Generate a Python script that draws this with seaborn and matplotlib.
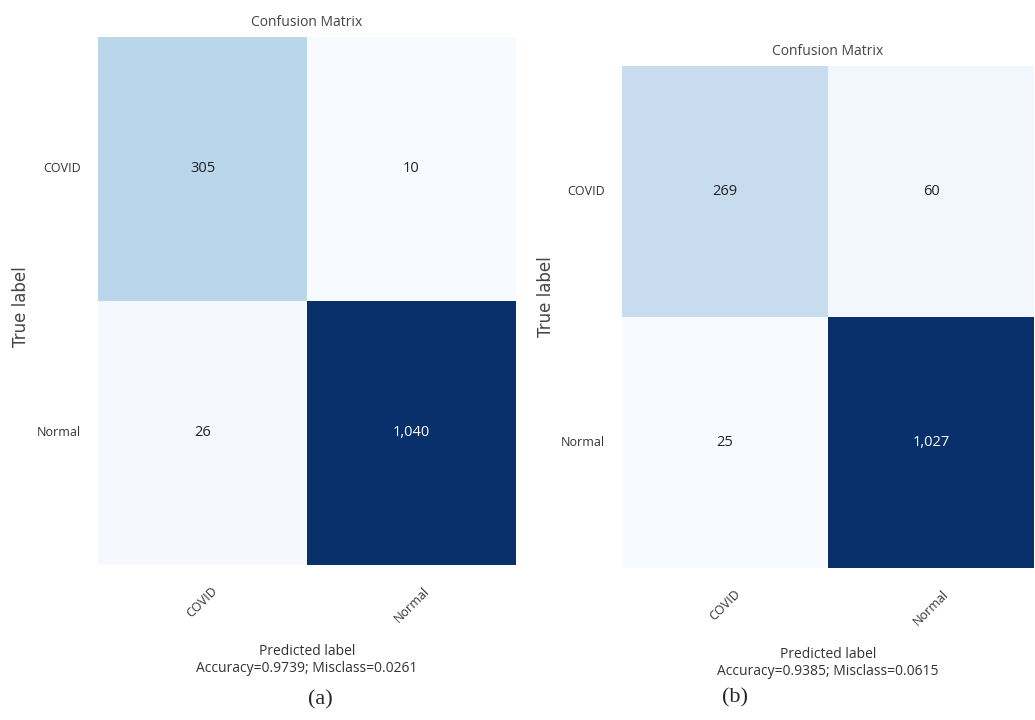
import numpy as np
import seaborn as sns
from matplotlib import pyplot as plt

classes = ["COVID", "Normal"]
cm_a = [[305, 10], [26, 1040]]
cm_b = [[269, 60], [25, 1027]]
stats_a = "Accuracy=0.9739; Misclass=0.0261"
stats_b = "Accuracy=0.9385; Misclass=0.0615"

sns.set_theme(style="white")
plt.rcParams['font.family'] = ['Open Sans', 'DejaVu Sans']

fig = plt.figure(figsize=(10.35, 7.2), dpi=100)
ax_a = fig.add_axes([98 / 1035, 1 - 565 / 720, 418 / 1035, 528 / 720])
ax_b = fig.add_axes([622 / 1035, 1 - 568 / 720, 412 / 1035, 502 / 720])


def show_confusion(ax, cm, stats, ylab_y):
    cm = np.array(cm)
    labels = [["{:,}".format(v) for v in row] for row in cm]
    sns.heatmap(cm, ax=ax, cmap="Blues", annot=labels, fmt="", cbar=False,
                linewidths=0, annot_kws={"fontsize": 10.5},
                xticklabels=classes, yticklabels=classes)
    # white text on dark cells
    thresh = cm.max() / 2
    for t, v in zip(ax.texts, cm.flatten()):
        t.set_color("white" if v > thresh else "#222222")
    ax.set_title("Confusion Matrix", fontsize=10, color="#444444", pad=8)
    ax.set_xticklabels(classes, rotation=45, fontsize=9, color="#333333",
                       ha="center", va="top")
    ax.set_yticklabels(classes, rotation=0, fontsize=9, color="#333333")
    ax.tick_params(axis="both", length=0, pad=14)
    ax.tick_params(axis="y", pad=12)
    ax.set_xlabel("Predicted label\n" + stats, fontsize=10, color="#333333",
                  labelpad=14)
    ax.set_ylabel("True label", fontsize=12, color="#444444",
                  family="DejaVu Sans")
    ax.yaxis.set_label_coords(-0.163, ylab_y)


show_confusion(ax_a, cm_a, stats_a, 0.49)
show_confusion(ax_b, cm_b, stats_b, 0.54)

fig.text(320 / 1035, 1 - 700 / 720, "(a)", fontsize=16,
         family="Liberation Serif", ha="center", va="center")
fig.text(735 / 1035, 1 - 698 / 720, "(b)", fontsize=16,
         family="Liberation Serif", ha="center", va="center")

fig.savefig("out.png", dpi=100)
